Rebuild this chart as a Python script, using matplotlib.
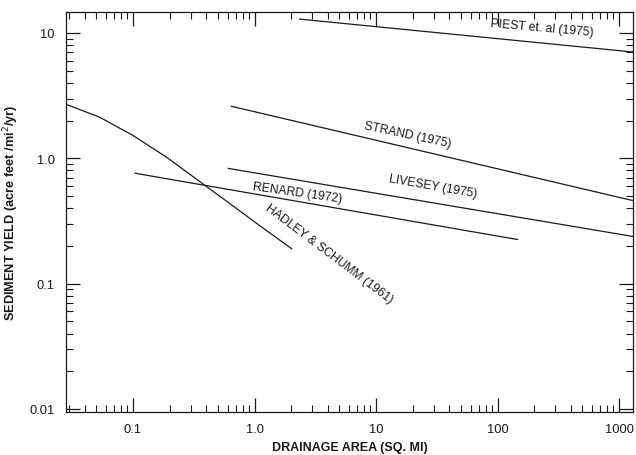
import numpy as np
import matplotlib
matplotlib.use("Agg")
import matplotlib.pyplot as plt
from matplotlib.ticker import FixedLocator, LogLocator, NullFormatter

plt.rcParams['font.family'] = ['Liberation Sans', 'DejaVu Sans']

# curves (drainage area sq mi, yield acre ft/mi2/yr)
piest_x = [2.35, 1300]
piest_y = [12.9, 7.05]
strand_x = [0.646, 1300]
strand_y = [2.6, 0.46]
livesey_x = [0.61, 1300]
livesey_y = [0.83, 0.238]
renard_x = [0.104, 146]
renard_y = [0.76, 0.225]
hadley_x = [0.028, 0.053, 0.099, 0.189, 0.352, 0.659, 1.1, 2.02]
hadley_y = [2.70, 2.13, 1.53, 1.02, 0.655, 0.42, 0.291, 0.19]

x_ticks = [0.1, 1, 10, 100, 1000]
x_ticklabels = ['0.1', '1.0', '10', '100', '1000']
y_ticks = [0.01, 0.1, 1, 10]
y_ticklabels = ['0.01', '0.1', '1.0', '10']

# label text, anchor point, rotation
labels = [
    ('PIEST et. al (1975)', 234, 11.0, -5),
    ('STRAND (1975)', 18.2, 1.56, -12),
    ('LIVESEY (1975)', 29.2, 0.60, -10),
    ('RENARD (1972)', 2.26, 0.535, -8),
    ('HADLEY & SCHUMM (1961)', 4.14, 0.174, -37),
]

ink = '#1a1a1a'
fig = plt.figure(figsize=(6.36, 4.56), dpi=100)
ax = fig.add_axes([0.1038, 0.0943, 0.8915, 0.8772])
ax.set_xscale('log')
ax.set_yscale('log')
ax.set_xlim(0.0281, 1304)
ax.set_ylim(0.00946, 14.7)

for xs, ys in [(piest_x, piest_y), (strand_x, strand_y), (livesey_x, livesey_y),
               (renard_x, renard_y), (hadley_x, hadley_y)]:
    ax.plot(xs, ys, color=ink, lw=0.9)

for txt, lx, ly, rot in labels:
    ax.text(lx, ly, txt, rotation=rot, rotation_mode='anchor', ha='center', va='center',
            fontsize=8.7, color=ink)

ax.xaxis.set_major_locator(FixedLocator(x_ticks))
ax.set_xticklabels(x_ticklabels)
ax.yaxis.set_major_locator(FixedLocator(y_ticks))
ax.set_yticklabels(y_ticklabels)
ax.xaxis.set_minor_locator(LogLocator(base=10, subs=np.arange(2, 10), numticks=20))
ax.yaxis.set_minor_locator(LogLocator(base=10, subs=np.arange(2, 10), numticks=20))
ax.xaxis.set_minor_formatter(NullFormatter())
ax.yaxis.set_minor_formatter(NullFormatter())

ax.tick_params(which='both', direction='in', top=True, right=True, colors=ink, labelsize=9.3)
ax.tick_params(which='major', length=10, width=0.9)
ax.tick_params(which='minor', length=5, width=0.8)
ax.tick_params(axis='x', which='major', pad=8)
ax.tick_params(axis='y', which='major', pad=8)
for s in ax.spines.values():
    s.set_color(ink)
    s.set_linewidth(0.9)

ax.set_xlabel('DRAINAGE AREA (SQ. MI)', fontsize=9, fontweight='bold', color=ink, labelpad=4)
ax.set_ylabel('SEDIMENT YIELD (acre feet /mi$^2$/yr)', fontsize=9.2, fontweight='bold', color=ink, labelpad=6)

fig.savefig('out.png', dpi=100)
